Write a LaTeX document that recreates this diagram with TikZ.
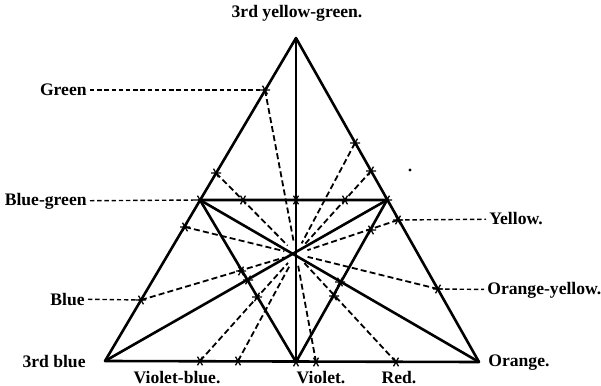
\documentclass[tikz,border=0pt]{standalone}
\usepackage{fontspec}
\setmainfont{Liberation Serif}
\usepackage{tikz}
\usetikzlibrary{positioning, calc}

\tikzset{
	side/.style={line width=1.3pt, line join=round},
	ray/.style={line width=0.9pt, dash pattern=on 3pt off 1.6pt, shorten >=6pt},
	guide/.style={line width=0.7pt, dash pattern=on 2.2pt off 1.4pt},
	colname/.style={font=\fontsize{8.8}{10}\selectfont\bfseries, inner sep=1.5pt},
}
\newcommand{\starmark}[1]{%
	\draw[line width=0.65pt] (#1) +(-5,0) -- +(5,0) (#1) +(60:5) -- +(240:5) (#1) +(120:5) -- +(300:5);}

\begin{document}
\begin{tikzpicture}[x=0.5pt,y=-0.5pt]
	\useasboundingbox (0,0) rectangle (601,386);
	% corners, mid points and centre
	\coordinate (top) at (296,38);
	\coordinate (blue3) at (105,361);
	\coordinate (orange) at (479,362);
	\coordinate (bgreen) at (200,200);
	\coordinate (yvert) at (387,200);
	\coordinate (violet) at (296,362);
	\coordinate (ctr) at (296,254);
	% points on the sides
	\coordinate (green) at (265,90);
	\coordinate (p1) at (216,173);
	\coordinate (r1) at (355,143);
	\coordinate (r2) at (371,171);
	\coordinate (l2) at (185,227);
	\coordinate (blue) at (141,300);
	\coordinate (yel) at (398,220);
	\coordinate (oyel) at (438,289);
	\coordinate (vblue) at (200,361);
	\coordinate (b2) at (238,361);
	\coordinate (b3) at (316,362);
	\coordinate (red) at (396,362);
	% crossings inside
	\coordinate (h1) at (243,200);
	\coordinate (h2) at (296,200);
	\coordinate (h3) at (345,200);
	\coordinate (q1) at (241,271);
	\coordinate (q2) at (248,280);
	\coordinate (q3) at (257,297);
	\coordinate (q4) at (334,296);
	\coordinate (q5) at (340,282);
	\coordinate (q6) at (371,230);

	\draw[side] (top)--(blue3)--(orange)--cycle;
	\draw[side] (bgreen)--(yvert)--(violet)--cycle;
	\draw[side] (top)--(violet);
	\draw[side] (blue3)--(yvert);
	\draw[side] (orange)--(bgreen);
	\foreach \p in {green,p1,r1,r2,l2,blue,vblue,b2,b3,red,oyel,yel}{\draw[ray] (\p)--(ctr);}
	\foreach \p in {green,p1,r1,r2,l2,blue,yel,oyel,vblue,b2,b3,red,violet,bgreen,yvert,h1,h2,h3,q1,q2,q3,q4,q5,q6}{\starmark{\p}}
	\fill (410,170) circle (1.6);

	\node[colname] (n3yg) at (297,13) {3rd yellow-green.};
	\node[colname, anchor=east] (ngreen) at (90,90) {Green};
	\node[colname, anchor=east] (nbgreen) at (90,201) {Blue-green};
	\node[colname, anchor=east] (nblue) at (88,299) {Blue};
	\node[colname, anchor=east] (n3blue) at (89,361) {3rd blue};
	\node[colname, anchor=base] (nvblue) at (177,383) {Violet-blue.};
	\node[colname, anchor=base] (nviolet) at (321,383) {Violet.};
	\node[colname, anchor=base] (nred) at (399,383) {Red.};
	\node[colname, anchor=west] (norange) at (485,363) {Orange.};
	\node[colname, anchor=west] (nyel) at (486,219) {Yellow.};
	\node[colname, anchor=west] (noyel) at (484,290) {Orange-yellow.};
	\draw[guide] (ngreen)--(green);
	\draw[guide] (nbgreen)--(bgreen);
	\draw[guide] (nblue)--(blue);
	\draw[guide] (yel)--(nyel);
	\draw[guide] (oyel)--(noyel);
\end{tikzpicture}
\end{document}
